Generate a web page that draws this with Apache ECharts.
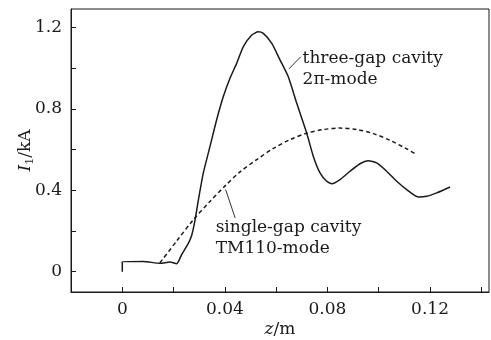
<!DOCTYPE html>
<html>
<head>
<meta charset="utf-8">
<script src="https://cdn.jsdelivr.net/npm/echarts@6/dist/echarts.min.js"></script>
<style>
  html, body { margin: 0; padding: 0; background: #fff; }
  #chart { width: 491px; height: 340px; }
</style>
</head>
<body>
<div id="chart"></div>
<script>
// three-gap cavity, 2pi-mode (solid)
const threeGapZ = [0, 0, 0.0082, 0.0147, 0.0186, 0.0212, 0.0232, 0.0258, 0.0271, 0.0284, 0.0297, 0.0316, 0.0342,
  0.0368, 0.0394, 0.042, 0.0446, 0.0472, 0.0505, 0.053, 0.055, 0.0583, 0.0615, 0.0647, 0.068, 0.0719, 0.0745,
  0.0771, 0.0797, 0.0817, 0.0849, 0.0888, 0.0927, 0.0959, 0.0992, 0.1031, 0.107, 0.1109, 0.1154, 0.1187, 0.1226, 0.1278]
const threeGapI = [0, 0.049, 0.05, 0.041, 0.047, 0.039, 0.085, 0.14, 0.18, 0.256, 0.354, 0.485, 0.615,
  0.746, 0.86, 0.95, 1.023, 1.105, 1.162, 1.178, 1.17, 1.121, 1.04, 0.958, 0.828, 0.681, 0.566,
  0.485, 0.444, 0.432, 0.452, 0.493, 0.53, 0.545, 0.534, 0.493, 0.444, 0.403, 0.367, 0.37, 0.387, 0.416]

// single-gap cavity, TM110-mode (dashed)
const singleGapZ = [0.0147, 0.0212, 0.0277, 0.0342, 0.04, 0.0459, 0.0524, 0.0589, 0.0654, 0.0719, 0.0784,
  0.0849, 0.0914, 0.0979, 0.1044, 0.1109, 0.1148]
const singleGapI = [0.044, 0.15, 0.255, 0.345, 0.42, 0.49, 0.55, 0.605, 0.648, 0.68, 0.698,
  0.705, 0.698, 0.678, 0.645, 0.603, 0.575]

// 刻度
const xTicks = [0, 0.02, 0.04, 0.06, 0.08, 0.1, 0.12, 0.14]
const xLabels = [0, 0.04, 0.08, 0.12]
const yTicks = [0, 0.2, 0.4, 0.6, 0.8, 1.0, 1.2]
const yLabels = [0, 0.4, 0.8, 1.2]

const font = 'DejaVu Serif'
const fs = 17
const ink = '#1a1a1a'

const chart = echarts.init(document.getElementById('chart'), null, { renderer: 'canvas' })

const pairs = (xs, ys) => xs.map((x, i) => [x, ys[i]])

const fmtX = v => (Math.abs(v) < 1e-9 ? '0' : v.toFixed(2))
const fmtY = v => (Math.abs(v) < 1e-9 ? '0' : v.toFixed(1))

const option = {
  animation: false,
  grid: {
    left: 71, right: 2, top: 9, bottom: 48,
    containLabel: false,
    outerBoundsMode: 'none',
    show: true, borderColor: ink, borderWidth: 1,
  },
  xAxis: {
    type: 'value',
    min: -0.02, max: 0.143,
    name: '{i|z}{n|/m}',
    nameLocation: 'middle',
    nameGap: 29,
    nameMoveOverlap: false,
    nameTextStyle: {
      rich: {
        i: { fontFamily: font, fontStyle: 'italic', fontSize: fs, color: ink },
        n: { fontFamily: font, fontSize: fs, color: ink },
      },
    },
    axisLine: { show: true, onZero: false, lineStyle: { color: ink, width: 1 } },
    axisTick: { show: true, inside: true, length: 5, customValues: xTicks, lineStyle: { color: ink } },
    axisLabel: { customValues: xLabels, formatter: fmtX, fontFamily: font, fontSize: fs, color: ink, margin: 9 },
    splitLine: { show: false },
  },
  yAxis: {
    type: 'value',
    min: -0.1, max: 1.29,
    name: '{i|I}{s|1}{n|/kA}',
    nameLocation: 'middle',
    nameGap: 35,
    nameRotate: 90,
    nameMoveOverlap: false,
    nameTextStyle: {
      rich: {
        i: { fontFamily: font, fontStyle: 'italic', fontSize: fs, color: ink },
        s: { fontFamily: font, fontSize: 11, color: ink, padding: [9, 0, 0, 0] },
        n: { fontFamily: font, fontSize: fs, color: ink },
      },
    },
    axisLine: { show: true, onZero: false, lineStyle: { color: ink, width: 1 } },
    axisTick: { show: true, inside: true, length: 5, customValues: yTicks, lineStyle: { color: ink } },
    axisLabel: { customValues: yLabels, formatter: fmtY, fontFamily: font, fontSize: fs, color: ink, margin: 9 },
    splitLine: { show: false },
  },
  series: [
    {
      name: 'three-gap cavity',
      type: 'line',
      data: pairs(threeGapZ, threeGapI),
      smooth: 0.2,
      showSymbol: false,
      lineStyle: { color: ink, width: 1.5 },
    },
    {
      name: 'single-gap cavity',
      type: 'line',
      data: pairs(singleGapZ, singleGapI),
      smooth: 0.3,
      showSymbol: false,
      lineStyle: { color: ink, width: 1.5, type: [4, 3] },
    },
  ],
}

chart.setOption(option)

// 注释文字和引线，位置用数据坐标换算
const toPx = p => chart.convertToPixel({ gridIndex: 0 }, p)
const notes = [
  { lead: [[0.065, 0.996], [0.0696, 1.056]], at: [0.0703, 1.045], lines: ['three-gap cavity', '2\u03c0-mode'] },
  { lead: [[0.0403, 0.403], [0.044, 0.264]], at: [0.0364, 0.217], lines: ['single-gap cavity', 'TM110-mode'] },
]
const graphics = []
notes.forEach(n => {
  const a = toPx(n.lead[0])
  const b = toPx(n.lead[1])
  graphics.push({
    type: 'line',
    shape: { x1: a[0], y1: a[1], x2: b[0], y2: b[1] },
    style: { stroke: ink, lineWidth: 0.9 },
  })
  const t = toPx(n.at)
  n.lines.forEach((s, i) => {
    graphics.push({
      type: 'text',
      x: t[0], y: t[1] + i * 21,
      style: { text: s, fontFamily: font, fontSize: fs, fill: ink, verticalAlign: 'middle', align: 'left' },
    })
  })
})
chart.setOption({ graphic: graphics })
</script>
</body>
</html>
